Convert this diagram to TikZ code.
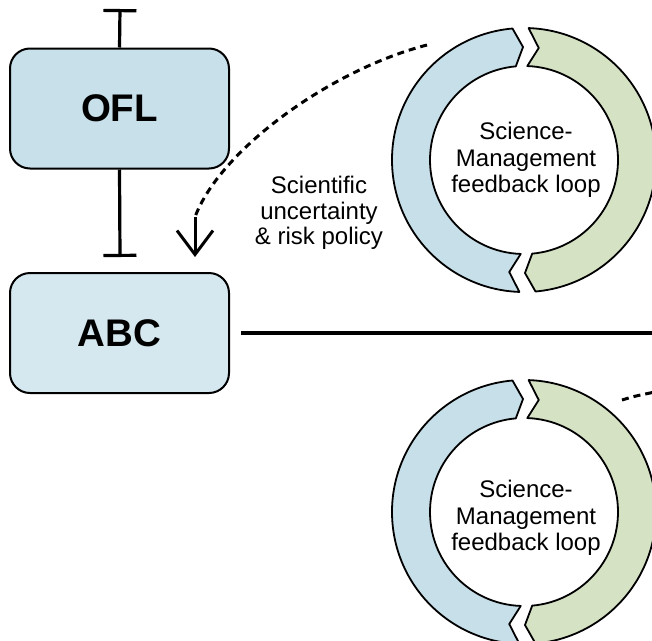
\documentclass[tikz,border=0pt]{standalone}
\usepackage{fontspec}
\setmainfont{Liberation Sans}
\usetikzlibrary{arrows.meta,calc}

\definecolor{oflfill}{RGB}{200,224,234}
\definecolor{abcfill}{RGB}{213,231,239}
\definecolor{sciblue}{RGB}{198,223,233}
\definecolor{mgmtgreen}{RGB}{214,226,196}

% One chevron segment of a feedback ring:
% #1 centre, #2 head angle (pointed end), #3 tail angle (notched end), #4 fill
\newcommand{\loopseg}[4]{%
  \filldraw[ringline, fill=#4]
    ($(#1)+(#2:132pt)$) arc[start angle=#2, end angle=#3, radius=132pt]
    -- ($(#1)+({#3-5.5}:113pt)$)
    -- ($(#1)+(#3:94pt)$) arc[start angle=#3, end angle=#2, radius=94pt]
    -- ($(#1)+({#2-4.5}:113pt)$) -- cycle;}

\begin{document}
\begin{tikzpicture}[x=1pt,y=1pt,
  boxnode/.style={draw=black, line width=2pt, rounded corners=20pt,
    minimum width=219pt, minimum height=120pt, inner sep=0pt,
    font=\bfseries\fontsize{38.5}{40}\selectfont},
  loopnode/.style={align=center, inner sep=0pt,
    font=\fontsize{24}{26.5}\selectfont},
  notenode/.style={align=center, inner sep=0pt,
    font=\fontsize{24}{25.5}\selectfont},
  ringline/.style={draw=black, line width=1.8pt, line join=round},
  barline/.style={line width=3.2pt, -{Bar[width=33pt]}},
  flowline/.style={line width=3.2pt},
  dashline/.style={line width=3pt, dash pattern=on 7pt off 5pt},
  barbline/.style={line width=3pt, -{Straight Barb[length=24pt,width=36pt]}}
]
\useasboundingbox (0,0) rectangle (652,-640);
\clip (0,0) rectangle (652,-640);

% Boxes
\node[boxnode, fill=oflfill] (ofl) at (119.5,-108.5) {OFL};
\node[boxnode, fill=abcfill] (abc) at (119.5,-333) {ABC};

% Bounds above and below OFL
\coordinate (topbar) at (120,-9);
\coordinate (lowbar) at (120,-257);
\draw[barline] (ofl.north) -- (topbar);
\draw[barline] (ofl.south) -- (lowbar);

% Line leaving ABC to the right
\coordinate (abcout) at ($(abc.east)+(11,0)$);
\coordinate (rightedge) at (660,-333);
\draw[flowline] (abcout) -- (rightedge);

% Feedback rings
\coordinate (ringA) at (524,-160);
\coordinate (ringB) at (524,-512);
\loopseg{ringA}{95}{268}{sciblue}
\loopseg{ringA}{275}{448}{mgmtgreen}
\loopseg{ringB}{95}{268}{sciblue}
\loopseg{ringB}{275}{448}{mgmtgreen}
\node[loopnode] (loopA) at (526,-160) {Science-\\Management\\feedback loop};
\node[loopnode] (loopB) at (526,-518) {Science-\\Management\\feedback loop};

% Dashed link from the upper ring down to ABC
\coordinate (dashstart) at (427,-45);
\coordinate (shaftstart) at (195,-217);
\coordinate (arrowtip) at (195,-257);
\draw[dashline] (dashstart) .. controls (330,-70) and (220,-150) .. (shaftstart);
\draw[barbline] (shaftstart) -- (arrowtip);
\node[notenode] (note) at (319,-213) {Scientific\\uncertainty\\\& risk policy};

% Dashed link leaving the lower ring
\coordinate (dashB) at (622,-400);
\coordinate (dashBout) at (665,-390);
\draw[dashline] (dashB) .. controls (635,-396) .. (dashBout);
\end{tikzpicture}
\end{document}
